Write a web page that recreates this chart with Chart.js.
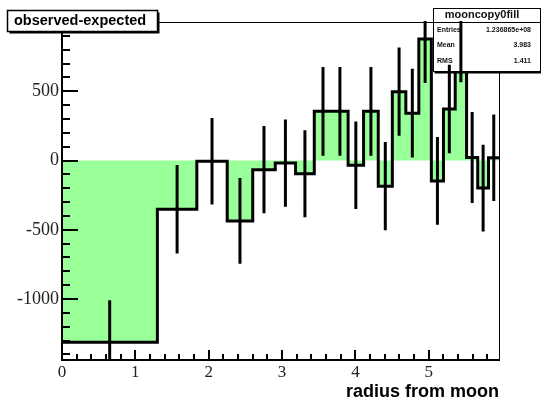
<!DOCTYPE html>
<html>
<head>
<meta charset="utf-8">
<script src="https://cdn.jsdelivr.net/npm/chart.js@4/dist/chart.umd.min.js"></script>
<style>
  html, body { margin: 0; padding: 0; background: #fff; }
  #wrap { width: 541px; height: 404px; }
</style>
</head>
<body>
<div id="wrap"><canvas id="c" width="541" height="404"></canvas></div>
<script>
// Variable-width bins (equal-area rings around the moon)
const binEdges = [0, 1.3, 1.838, 2.252, 2.6, 2.907, 3.184, 3.439, 3.677, 3.9, 4.111,
                  4.311, 4.503, 4.687, 4.864, 5.035, 5.2, 5.36, 5.515, 5.667, 5.814, 5.957];
// observed - expected per bin
const binValues = [-1311, -352, -5, -436, -66, -18, -95, 355, 355, -34,
                   355, -185, 497, 342, 878, -147, 372, 885, 22, -199, 20];
// statistical error per bin
const binErrors = [303, 320, 312, 310, 315, 315, 314, 320, 320, 316,
                   320, 318, 319, 321, 318, 316, 320, 320, 328, 313, 313];
const xTickValues = [0, 1, 2, 3, 4, 5];
const yTickValues = [-1000, -500, 0, 500];
const statTitle = 'mooncopy0fill';
const statRows = [['Entries', '1.236865e+08'], ['Mean', '3.983'], ['RMS', '1.411']];

// histogram outline: each point holds its value until the next edge
const stepPoints = binValues.map((v, i) => ({ x: binEdges[i], y: v }));
stepPoints.push({ x: binEdges[binEdges.length - 1], y: binValues[binValues.length - 1] });

// error bars: one vertical segment per bin centre, separated by gaps
const errPoints = [];
binValues.forEach((v, i) => {
  const c = (binEdges[i] + binEdges[i + 1]) / 2;
  errPoints.push({ x: c, y: v - binErrors[i] }, { x: c, y: v + binErrors[i] }, { x: c, y: null });
});

const GREEN = 'rgb(153,255,153)';

const framePlugin = {
  id: 'rootFrame',
  beforeDatasetDraw(chart, args) {
    if (args.index !== 2) return;
    const ctx = chart.ctx;
    const { left, right, top, bottom } = chart.chartArea;
    const xs = chart.scales.x, ys = chart.scales.y;
    ctx.save();
    // frame
    ctx.strokeStyle = '#000';
    ctx.lineWidth = 1;
    ctx.beginPath();
    ctx.moveTo(left, top + 0.5); ctx.lineTo(right + 0.5, top + 0.5); ctx.lineTo(right + 0.5, bottom);
    ctx.stroke();
    ctx.lineWidth = 2;
    ctx.beginPath();
    ctx.moveTo(left, top); ctx.lineTo(left, bottom); ctx.lineTo(right + 1, bottom);
    ctx.stroke();
    // y ticks (inward)
    ctx.lineWidth = 2;
    ctx.beginPath();
    for (let v = -1400; v <= 900; v += 100) {
      const py = Math.round(ys.getPixelForValue(v));
      const len = (v % 500 === 0) ? 16 : 8;
      ctx.moveTo(left, py); ctx.lineTo(left + len, py);
    }
    // x ticks (inward)
    for (let k = 0; k <= 29; k++) {
      const v = k * 0.2;
      if (v > xs.max) break;
      const px = Math.round(xs.getPixelForValue(v));
      const len = (k % 5 === 0) ? 10 : 6;
      ctx.moveTo(px, bottom); ctx.lineTo(px, bottom - len);
    }
    ctx.stroke();
    // statistics box
    const bx = 433.5, by = 8.5, bw = 107, bh = 63;
    ctx.fillStyle = '#000';
    ctx.fillRect(bx + 1, by + 1, bw, bh + 1);
    ctx.fillStyle = '#fff';
    ctx.fillRect(bx, by, bw, bh);
    ctx.lineWidth = 1;
    ctx.strokeStyle = '#000';
    ctx.strokeRect(bx, by, bw, bh);
    ctx.beginPath();
    ctx.moveTo(bx, 22.5); ctx.lineTo(bx + bw, 22.5);
    ctx.stroke();
    ctx.fillStyle = '#111';
    ctx.font = 'bold 11px "Liberation Sans"';
    ctx.textAlign = 'center';
    ctx.textBaseline = 'middle';
    ctx.fillText(statTitle, 482, 15);
    ctx.font = 'bold 7px "Liberation Sans"';
    statRows.forEach((r, i) => {
      const ry = 30 + i * 15.5;
      ctx.textAlign = 'left';
      ctx.fillText(r[0], 437, ry);
      ctx.textAlign = 'right';
      ctx.fillText(r[1], 531, ry);
    });
    ctx.restore();
  },
  afterDraw(chart) {
    const ctx = chart.ctx;
    ctx.save();
    // title box with shadow
    ctx.fillStyle = '#000';
    ctx.fillRect(9.5, 12.5, 150, 21);
    ctx.fillStyle = '#fff';
    ctx.fillRect(7.5, 10.5, 150, 21);
    ctx.strokeStyle = '#000';
    ctx.lineWidth = 1.5;
    ctx.strokeRect(7.5, 10.5, 150, 21);
    ctx.fillStyle = '#000';
    ctx.font = 'bold 14.5px "Liberation Sans"';
    ctx.textAlign = 'left';
    ctx.textBaseline = 'middle';
    ctx.fillText('observed-expected', 14, 20.5);
    ctx.restore();
  }
};

new Chart(document.getElementById('c').getContext('2d'), {
  type: 'line',
  data: {
    datasets: [
      { data: stepPoints, stepped: true, borderWidth: 0, borderColor: 'rgba(0,0,0,0)',
        backgroundColor: GREEN, fill: { value: 0 }, pointRadius: 0, order: 3 },
      { data: stepPoints, stepped: true, borderWidth: 3, borderColor: '#000',
        fill: false, pointRadius: 0, order: 2, borderCapStyle: 'butt', borderJoinStyle: 'miter' },
      { data: errPoints, borderWidth: 3, borderColor: '#000', fill: false, pointRadius: 0,
        spanGaps: false, order: 1, borderCapStyle: 'butt', clip: { left: 0, top: 1, right: 0, bottom: 0 } }
    ]
  },
  options: {
    animation: false,
    responsive: false,
    devicePixelRatio: 1,
    layout: { padding: { top: 22, right: 42, left: 0, bottom: 0 } },
    plugins: { legend: { display: false }, tooltip: { enabled: false } },
    scales: {
      x: {
        type: 'linear', min: 0, max: 5.957,
        grid: { display: false, drawTicks: false },
        border: { display: false },
        afterBuildTicks: s => { s.ticks = xTickValues.map(v => ({ value: v })); },
        afterFit: s => { s.height = 44; },
        ticks: { font: { family: 'Liberation Serif', size: 17 }, color: '#222', padding: 2,
                 maxRotation: 0, autoSkip: false, callback: v => String(v) },
        title: { display: true, text: 'radius from moon', align: 'end', color: '#000',
                 font: { family: 'Liberation Sans', weight: 'bold', size: 18 },
                 padding: { top: 0, bottom: 1 } }
      },
      y: {
        type: 'linear', min: -1440, max: 1000,
        grid: { display: false, drawTicks: false },
        border: { display: false },
        afterBuildTicks: s => { s.ticks = yTickValues.map(v => ({ value: v })); },
        afterFit: s => { s.width = 62; },
        ticks: { font: { family: 'Liberation Serif', size: 18 }, color: '#222', padding: 3,
                 callback: v => String(v) }
      }
    }
  },
  plugins: [framePlugin]
});
</script>
</body>
</html>
